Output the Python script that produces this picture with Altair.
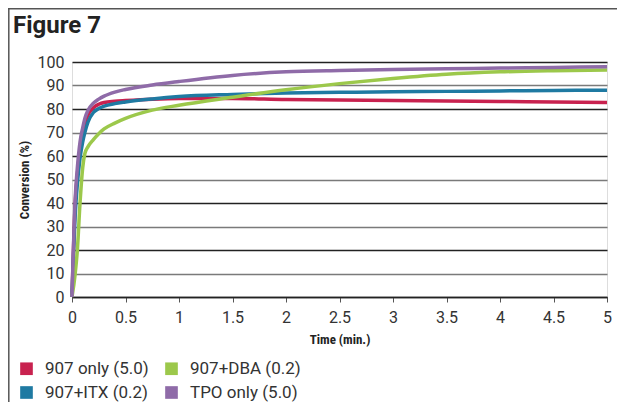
import altair as alt
import pandas as pd

time_min = [0, 0.03, 0.05, 0.075, 0.1, 0.12, 0.15, 0.2, 0.25, 0.3, 0.4, 0.5, 0.75, 1, 1.5, 2, 2.5, 3, 3.5, 4, 4.5, 5]
s907_only = [0, 40, 52, 63, 70, 74, 77.5, 80.5, 82, 82.8, 83.3, 83.6, 84.2, 84.5, 84.5, 84.0, 83.8, 83.6, 83.4, 83.2, 83.0, 82.8]
s907_dba = [0, 10, 20, 40, 55, 61, 64, 67, 69.5, 71.5, 74, 76, 79.5, 81.6, 85.0, 88.2, 90.8, 93.0, 94.8, 95.8, 96.3, 96.6]
s907_itx = [0, 35, 48, 59, 66, 70, 74.5, 78.5, 80.2, 81.2, 82.3, 83.0, 84.3, 85.3, 86.2, 86.8, 87.1, 87.3, 87.5, 87.7, 87.9, 88.0]
tpo_only = [0, 42, 55, 66, 72, 76, 79.5, 82.5, 84.2, 85.5, 87.2, 88.3, 90.2, 91.7, 94.3, 95.8, 96.4, 96.8, 97.1, 97.4, 97.7, 98.0]

# legend is laid out column-major: col 1 = first two, col 2 = last two
series_names = ["907 only (5.0)", "907+ITX (0.2)", "907+DBA (0.2)", "TPO only (5.0)"]
series_colors = ["#c8224f", "#1f7aa2", "#9cc84b", "#8f6ba8"]
series_values = [s907_only, s907_itx, s907_dba, tpo_only]
draw_order = ["907 only (5.0)", "907+DBA (0.2)", "907+ITX (0.2)", "TPO only (5.0)"]

x_ticks = [0, 0.5, 1, 1.5, 2, 2.5, 3, 3.5, 4, 4.5, 5]
y_ticks = [0, 10, 20, 30, 40, 50, 60, 70, 80, 90, 100]
figure_title = "Figure 7"

rows = []
for name, vals in zip(series_names, series_values):
    for t, v in zip(time_min, vals):
        rows.append({"Time": t, "Conversion": v, "Series": name,
                     "z": draw_order.index(name)})
df = pd.DataFrame(rows)

COND = "Roboto Condensed, DejaVu Sans Condensed, Liberation Sans Narrow, Roboto, sans-serif"
FONT = "Roboto, sans-serif"

x_enc = alt.X("Time:Q", scale=alt.Scale(domain=[0, 5], nice=False),
              axis=alt.Axis(values=x_ticks, title="Time (min.)", grid=False, format="~g",
                            domain=True, domainColor="#222", domainWidth=1.5,
                            ticks=True, tickSize=5, tickColor="#555", tickWidth=1,
                            labelFontSize=16, labelColor="#333", labelPadding=7,
                            labelFont=FONT, labelFlush=False,
                            titleFont=COND, titleFontSize=13, titleFontWeight="bold",
                            titleColor="#222", titlePadding=8))
y_enc = alt.Y("Conversion:Q", scale=alt.Scale(domain=[0, 100], nice=False),
              axis=alt.Axis(values=y_ticks, title="Conversion (%)", grid=True,
                            gridColor={"condition": {"test": "datum.value % 20 === 0", "value": "#222"}, "value": "#7a7a7a"},
                            gridWidth=1.5, domain=False, ticks=False,
                            labelFontSize=16, labelColor="#333", labelPadding=8,
                            labelFont=FONT,
                            titleFont=COND, titleFontSize=13, titleFontWeight="bold",
                            titleColor="#222", titlePadding=6))
legend_cfg = alt.Legend(title=None, orient="none", legendX=-54, legendY=298,
                        columns=2, symbolType="square", symbolSize=160,
                        symbolStrokeWidth=0, labelFontSize=17, labelColor="#333",
                        labelFont=FONT, columnPadding=14, rowPadding=6,
                        labelOffset=10, symbolOpacity=1)
color_enc = alt.Color("Series:N", scale=alt.Scale(domain=series_names, range=series_colors),
                      legend=legend_cfg)

# empty, filled-square layer placed first so the legend gets solid square symbols
legend_layer = alt.Chart(df).transform_filter("datum.Time < 0").mark_square(filled=True, size=160).encode(
    x=x_enc, y=y_enc, color=color_enc,
)

lines = alt.Chart(df).mark_line(strokeWidth=3.5, interpolate="monotone", clip=False).encode(
    x=x_enc, y=y_enc, color=color_enc,
    detail="z:O",
    order=alt.Order("Time:Q"),
)

frame_top = alt.Chart(pd.DataFrame({"a": [0]})).mark_rule(stroke="#555", strokeWidth=1.5, clip=False).encode(
    x=alt.value(-64), x2=alt.value(545), y=alt.value(-53.2)
)
frame_left = alt.Chart(pd.DataFrame({"a": [0]})).mark_rule(stroke="#555", strokeWidth=1.5, clip=False).encode(
    x=alt.value(-63.2), y=alt.value(-54), y2=alt.value(340)
)

title = alt.Chart(pd.DataFrame({"t": [figure_title]})).mark_text(
    align="left", baseline="alphabetic", fontSize=24, fontWeight="bold",
    font=FONT, color="#222", clip=False
).encode(text="t:N", x=alt.value(-59), y=alt.value(-29))

chart = alt.layer(legend_layer, lines, frame_top, frame_left, title).properties(
    width=535, height=235,
    padding={"left": 64, "top": 54, "right": 10, "bottom": 105},
    autosize=alt.AutoSizeParams(type="none"),
).configure_view(stroke=None).configure(background="white")

chart.save("out.html", embed_options={"renderer": "svg", "actions": False})
